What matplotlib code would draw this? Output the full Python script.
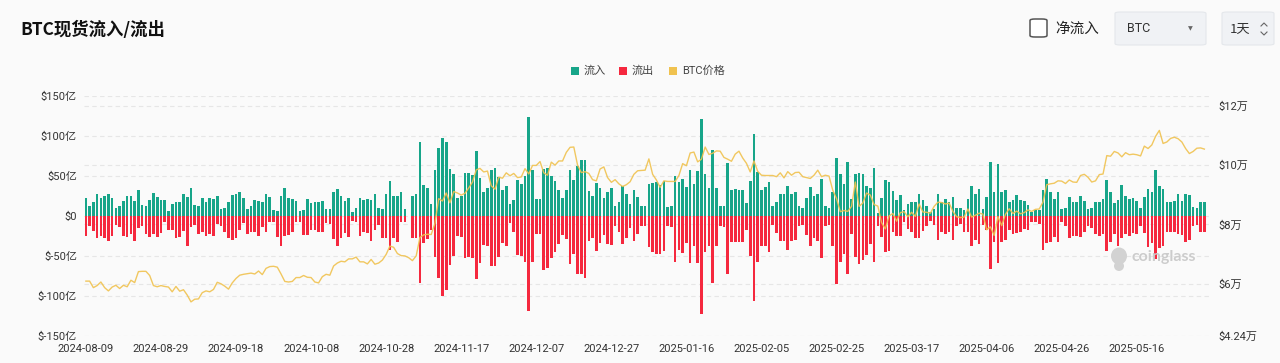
import numpy as np
import pandas as pd
import matplotlib
matplotlib.use("Agg")
import matplotlib.pyplot as plt
from matplotlib.patches import FancyBboxPatch, Rectangle, Ellipse
from matplotlib.lines import Line2D

plt.rcParams['font.family'] = ['Roboto', 'Noto Sans CJK SC', 'DejaVu Sans']

# ---------------- data ----------------
start_date = "2024-08-09"
n_days = 299
dates = pd.date_range(start_date, periods=n_days, freq="D").strftime("%Y-%m-%d").tolist()

# inflow, 亿 USD
inflow = [
    23, 12, 17, 27, 23, 25, 27, 23, 10, 13,
    19, 25, 25, 19, 33, 14, 12, 20, 29, 24,
    20, 20, 6, 15, 17, 17, 27, 24, 35, 14,
    12, 23, 18, 23, 21, 25, 9, 10, 18, 26,
    27, 30, 23, 9, 12, 20, 19, 17, 28, 24,
    7, 6, 25, 35, 22, 21, 19, 6, 7, 21,
    16, 17, 18, 19, 9, 9, 30, 34, 25, 19,
    23, 5, 10, 23, 20, 21, 20, 27, 10, 9,
    27, 44, 25, 25, 30, 9, 0.6, 25, 27, 92,
    39, 35, 15, 57, 85, 97, 92, 59, 52, 23,
    25, 54, 54, 51, 81, 48, 30, 35, 57, 60,
    49, 33, 37, 15, 20, 45, 40, 50, 124, 58,
    21, 21, 59, 60, 50, 44, 33, 22, 32, 57,
    45, 62, 70, 70, 31, 25, 41, 35, 23, 30,
    35, 13, 17, 37, 27, 15, 32, 24, 12, 12,
    40, 41, 43, 39, 44, 11, 12, 50, 42, 46,
    36, 58, 40, 56, 121, 53, 35, 82, 35, 13,
    13, 66, 32, 34, 32, 32, 16, 44, 103, 55,
    33, 36, 42, 12, 18, 28, 27, 38, 27, 30,
    12, 10, 22, 36, 25, 27, 46, 13, 10, 30,
    73, 52, 40, 68, 21, 53, 54, 53, 38, 35,
    60, 4, 22, 45, 43, 31, 20, 26, 8, 15,
    17, 18, 27, 20, 12, 5, 9, 28, 17, 21,
    18, 24, 10, 10, 8, 21, 38, 27, 34, 9,
    24, 67, 30, 65, 30, 32, 17, 20, 26, 20,
    19, 14, 5, 8, 8, 33, 46, 30, 21, 30,
    9, 10, 24, 17, 18, 25, 19, 9, 10, 17,
    18, 21, 45, 30, 16, 20, 39, 25, 21, 22,
    19, 10, 24, 34, 30, 57, 38, 34, 17, 17,
    19, 27, 19, 27, 26, 11, 10, 17, 17,
]

# outflow, 亿 USD
outflow = [
    -25, -12, -19, -28, -25, -27, -31, -25, -11, -14,
    -25, -26, -23, -31, -15, -13, -22, -26, -22, -26,
    -21, -8, -17, -18, -28, -26, -19, -37, -14, -11,
    -22, -20, -25, -22, -25, -10, -12, -20, -27, -30,
    -28, -17, -9, -22, -20, -20, -25, -14, -20, -7,
    -8, -26, -37, -25, -24, -20, -7, -8, -24, -24,
    -17, -18, -20, -20, -9, -10, -29, -37, -28, -21,
    -26, -6, -8, -25, -20, -21, -31, -17, -11, -27,
    -28, -42, -28, -32, -8, -8, -0.6, -27, -28, -84,
    -34, -29, -17, -51, -78, -100, -93, -61, -50, -25,
    -26, -53, -51, -53, -79, -59, -36, -37, -63, -63,
    -51, -34, -37, -9, -20, -49, -50, -57, -119, -57,
    -23, -22, -67, -65, -52, -45, -35, -24, -29, -60,
    -47, -72, -72, -77, -31, -27, -44, -34, -24, -35,
    -36, -12, -20, -35, -27, -15, -31, -23, -12, -12,
    -39, -45, -47, -47, -44, -13, -14, -58, -42, -46,
    -34, -59, -38, -59, -123, -45, -38, -84, -38, -13,
    -14, -72, -32, -33, -32, -32, -18, -50, -106, -58,
    -38, -37, -45, -11, -21, -31, -31, -42, -31, -30,
    -13, -11, -24, -38, -27, -31, -52, -13, -11, -37,
    -85, -58, -47, -72, -22, -51, -60, -55, -49, -35,
    -57, -12, -26, -45, -44, -20, -25, -25, -8, -16,
    -20, -27, -28, -19, -13, -6, -11, -30, -20, -22,
    -20, -30, -12, -10, -20, -20, -38, -30, -35, -11,
    -17, -66, -33, -59, -32, -30, -17, -23, -21, -20,
    -16, -17, -8, -8, -10, -42, -34, -32, -26, -32,
    -8, -12, -27, -25, -25, -26, -20, -13, -15, -22,
    -25, -22, -44, -33, -23, -37, -27, -22, -25, -21,
    -22, -13, -21, -39, -34, -54, -40, -38, -20, -20,
    -20, -22, -24, -32, -30, -13, -11, -20, -20,
]

# BTC price, 千 USD
price_k = [
    60.9, 60.9, 58.7, 59.4, 60.6, 58.7, 57.6, 58.9, 59.5, 58.4,
    59.5, 59.0, 61.2, 60.4, 64.1, 64.2, 64.2, 62.8, 59.4, 59.0,
    59.4, 59.1, 58.9, 57.3, 59.1, 57.5, 58.0, 56.2, 53.9, 54.8,
    54.9, 57.0, 57.6, 57.3, 58.1, 60.5, 60.0, 59.2, 58.2, 60.3,
    61.8, 62.9, 63.2, 63.4, 63.6, 63.3, 64.3, 63.1, 65.2, 65.8,
    65.9, 65.6, 63.3, 60.8, 60.6, 60.8, 62.1, 62.1, 62.8, 62.2,
    62.1, 60.6, 60.3, 62.4, 63.2, 62.9, 66.0, 67.0, 67.6, 67.4,
    68.4, 68.4, 69.0, 67.4, 67.4, 66.7, 68.2, 66.6, 67.0, 68.0,
    69.9, 72.7, 72.3, 70.2, 69.5, 69.4, 68.8, 67.8, 69.4, 75.6,
    76.5, 76.7, 76.6, 80.4, 88.7, 87.9, 90.6, 87.3, 91.1, 90.6,
    89.9, 90.5, 92.3, 94.3, 98.4, 98.9, 97.7, 98.0, 93.0, 91.9,
    95.9, 95.6, 97.4, 96.4, 97.2, 95.8, 96.0, 98.8, 97.0, 99.9,
    99.9, 101.2, 97.4, 96.6, 101.0, 100.0, 101.4, 101.4, 104.3, 106.0,
    106.1, 100.0, 97.5, 97.8, 97.2, 95.1, 94.7, 98.7, 99.4, 95.8,
    94.2, 95.1, 93.7, 92.8, 93.4, 94.4, 96.9, 98.1, 98.2, 98.3,
    102.1, 96.9, 95.0, 92.5, 94.7, 94.5, 94.5, 94.5, 96.5, 100.5,
    99.8, 104.1, 104.4, 101.1, 102.0, 106.1, 103.6, 104.0, 104.8, 104.7,
    102.6, 102.0, 101.3, 103.7, 104.7, 102.4, 100.6, 97.7, 101.4, 97.9,
    96.6, 96.5, 96.5, 96.5, 96.1, 97.4, 95.7, 97.8, 96.6, 97.5,
    97.6, 96.1, 95.8, 95.5, 96.6, 98.3, 96.1, 96.6, 96.3, 91.5,
    88.7, 84.3, 84.7, 84.4, 86.1, 94.3, 86.1, 87.2, 90.6, 89.9,
    86.7, 86.2, 80.6, 78.5, 82.9, 83.7, 81.1, 84.0, 84.3, 82.6,
    84.1, 82.7, 86.9, 84.2, 84.1, 83.8, 86.1, 87.5, 87.4, 86.9,
    87.2, 84.4, 82.6, 82.3, 82.5, 85.2, 82.5, 83.1, 83.8, 83.5,
    78.2, 79.2, 76.3, 82.6, 79.6, 83.4, 85.3, 83.7, 84.5, 83.6,
    84.0, 84.9, 84.4, 85.1, 85.2, 87.5, 93.4, 93.7, 93.9, 94.7,
    94.6, 93.8, 95.0, 94.3, 94.2, 96.5, 96.9, 95.9, 94.3, 94.7,
    96.8, 97.0, 103.2, 103.0, 104.6, 104.1, 102.8, 104.2, 103.5, 103.7,
    103.5, 103.1, 106.4, 105.6, 106.8, 109.7, 111.7, 107.3, 107.8, 109.0,
    109.4, 108.9, 107.8, 105.6, 103.9, 104.6, 105.7, 105.8, 105.4,
]

left_ticks = [-150, -100, -50, 0, 50, 100, 150]
left_labels = ["$-150亿", "$-100亿", "$-50亿", "$0", "$50亿", "$100亿", "$150亿"]
right_ticks = [42400, 60000, 80000, 100000, 120000]
right_labels = ["$4.24万", "$6万", "$8万", "$10万", "$12万"]
label_every = 20

# ---------------- style ----------------
W, H = 1280, 363
BG = "#fafafa"
GREEN = "#17a589"
RED = "#f5283e"
GOLD = "#f0c24f"
TXT = "#333333"
GRID = "#e6e6e6"
R_MIN, R_MAX = 42400, 123300

fig = plt.figure(figsize=(W / 100, H / 100), dpi=100, facecolor=BG)

def fx(x):
    return x / W

def fy(y):
    return 1 - y / H

L, R, T, B = 84, 1210, 96, 336
ax = fig.add_axes([fx(L), fy(B), (R - L) / W, (B - T) / H])
ax.set_facecolor(BG)
ax2 = ax.twinx()

x = np.arange(n_days)
price = np.array(price_k) * 1000

# gridlines (left ticks and right ticks), drawn on the bar axis underneath bars
for v in left_ticks:
    ax.axhline(v, color=GRID, lw=0.8, ls=(0, (4, 3)), zorder=0)
for p in right_ticks[1:]:
    v = -150 + (p - R_MIN) / (R_MAX - R_MIN) * 300
    ax.axhline(v, color=GRID, lw=0.8, ls=(0, (4, 3)), zorder=0)

ax.bar(x, inflow, width=0.7, color=GREEN, zorder=2, linewidth=0)
ax.bar(x, outflow, width=0.7, color=RED, zorder=2, linewidth=0)

ax2.plot(x, price, color=GOLD, lw=1.0, alpha=0.9, zorder=3, solid_joinstyle="round")

ax.set_xlim(-0.5, 299.5)
ax.set_ylim(-150, 150)
ax2.set_ylim(R_MIN, R_MAX)

ax.set_yticks(left_ticks)
ax.set_yticklabels(left_labels)
ax2.set_yticks(right_ticks)
ax2.set_yticklabels(right_labels)
ticks = list(range(0, n_days, label_every))
ax.set_xticks(ticks)
ax.set_xticklabels([dates[i] for i in ticks])

for a in (ax, ax2):
    for s in a.spines.values():
        s.set_visible(False)
    a.tick_params(length=0, colors=TXT, labelsize=8)
ax.tick_params(axis="y", pad=5)
ax2.tick_params(axis="y", pad=6)
ax.tick_params(axis="x", pad=6)

# ---------------- header ----------------
fig.text(fx(20), fy(30), "BTC现货流入/流出", fontsize=12.5, fontweight="bold",
         color="#111111", va="center", ha="left",
         family=["Noto Sans CJK SC", "DejaVu Sans"])

# checkbox
fig.patches.append(FancyBboxPatch((fx(1030), fy(37)), fx(17), 18 / H,
                                  boxstyle="round,pad=0,rounding_size=0.004",
                                  transform=fig.transFigure, facecolor="white",
                                  edgecolor="#555555", lw=1.1))
fig.text(fx(1055), fy(29), "净流入", fontsize=10.5, color="#222222", va="center",
         family=["Noto Sans CJK SC", "DejaVu Sans"])

# dropdown boxes
for (x0, x1) in [(1115, 1206), (1222, 1274)]:
    fig.patches.append(FancyBboxPatch((fx(x0), fy(45)), fx(x1 - x0), 33 / H,
                                      boxstyle="round,pad=0,rounding_size=0.004",
                                      transform=fig.transFigure, facecolor="#f0f2f5",
                                      edgecolor="#e4e7eb", lw=0.8))
fig.text(fx(1127), fy(29), "BTC", fontsize=9, color="#333333", va="center")
fig.text(fx(1190), fy(29), "▼", fontsize=4.5, color="#666666", va="center", ha="center",
         family=["DejaVu Sans"])
fig.text(fx(1230), fy(29), "1天", fontsize=9.5, color="#333333", va="center",
         family=["Noto Sans CJK SC", "DejaVu Sans"])
cx = 1264
fig.lines.append(Line2D([fx(cx - 3), fx(cx), fx(cx + 3)], [fy(26), fy(23), fy(26)],
                        transform=fig.transFigure, color="#666666", lw=0.8))
fig.lines.append(Line2D([fx(cx - 3), fx(cx), fx(cx + 3)], [fy(32), fy(35), fy(32)],
                        transform=fig.transFigure, color="#666666", lw=0.8))

# legend
leg_items = [(571, GREEN, "流入"), (619, RED, "流出"), (669, GOLD, "BTC价格")]
for xs, c, lab in leg_items:
    fig.patches.append(Rectangle((fx(xs), fy(75)), fx(8), 8 / H,
                                 transform=fig.transFigure, facecolor=c, edgecolor="none"))
    fig.text(fx(xs + 13), fy(71), lab, fontsize=8, color="#444444", va="center")

# watermark
fig.patches.append(Ellipse((fx(1119), fy(256)), fx(16), 17 / H,
                           transform=fig.transFigure, facecolor="#d2d2d2", edgecolor="none"))
fig.patches.append(Ellipse((fx(1119), fy(266)), fx(10), 10 / H,
                           transform=fig.transFigure, facecolor="#d2d2d2", edgecolor="none"))
fig.text(fx(1132), fy(257), "coinglass", fontsize=11.5, fontweight="bold",
         color="#cccccc", va="center", family=["Lato", "DejaVu Sans"])

fig.savefig("out.png", dpi=100, facecolor=BG)
